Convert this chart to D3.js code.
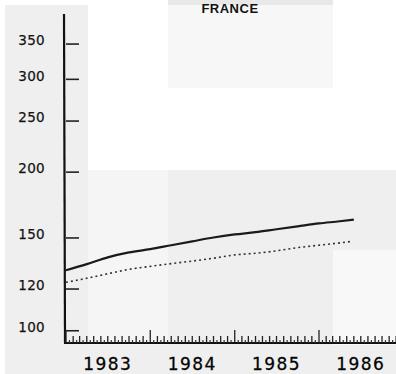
<!DOCTYPE html>
<html><head><meta charset="utf-8">
<script src="https://cdn.jsdelivr.net/npm/d3@7"></script>
<style>html,body{margin:0;padding:0;background:#fff;}svg{display:block;}</style>
</head><body>
<script>
const title = "FRANCE";
const yTicks = [100, 120, 150, 200, 250, 300, 350];
const xYears = ["1983", "1984", "1985", "1986"];
const solidDates = ["1983-01-01","1983-04-01","1983-07-01","1983-10-01","1984-01-01","1984-04-01","1984-07-01","1984-10-01","1985-01-01","1985-04-01","1985-07-01","1985-10-01","1986-01-01","1986-04-01","1986-06-01"];
const solidValues = [130, 133.5, 137.5, 140.5, 142.5, 145, 147.5, 150, 152, 153.5, 155.5, 157.5, 159.5, 161, 162.2];
const dottedDates = ["1983-01-01","1983-04-01","1983-07-01","1983-10-01","1984-01-01","1984-04-01","1984-07-01","1984-10-01","1985-01-01","1985-04-01","1985-07-01","1985-10-01","1986-01-01","1986-04-01","1986-05-20"];
const dottedValues = [123.3, 125.5, 128, 130.5, 132.2, 133.8, 135.3, 137, 139, 140, 141.5, 143.5, 145, 146.5, 147.4];

const W = 396, H = 374;
const svg = d3.select("body").append("svg").attr("width", W).attr("height", H);
const parse = d3.timeParse("%Y-%m-%d");

// scan background patches
const bg = svg.append("g");
[[5,5,83,369,"#efefef"],[168,0,165,88,"#f7f7f7"],[168,0,165,5,"#e8e8e8"],[88,170,80,175,"#f5f5f5"],
 [168,170,228,175,"#efefef"],[333,250,63,95,"#f8f8f8"],[88,345,308,29,"#efefef"]]
 .forEach(r => bg.append("rect").attr("x", r[0]).attr("y", r[1]).attr("width", r[2]).attr("height", r[3]).attr("fill", r[4]));

const x = d3.scaleTime().domain([parse("1983-01-01"), parse("1986-01-01")]).range([66, 319]);
const y = d3.scaleLog().domain([95, 400]).range([342, 13]);

// title
svg.append("text").attr("x", 230).attr("y", 13).attr("text-anchor", "middle")
  .attr("font-family", "Liberation Sans, Arial, sans-serif").attr("font-weight", "bold")
  .attr("font-size", 13).attr("letter-spacing", 0.5).attr("fill", "#111").text(title);

// y axis
const yAxis = d3.axisRight(y).tickValues(yTicks).tickSize(13).tickFormat("");
const gy = svg.append("g").attr("transform", "translate(66,0)").call(yAxis);
gy.select(".domain").remove();
gy.selectAll(".tick line").attr("stroke", "#222").attr("stroke-width", 1.6);
svg.append("line").attr("x1", 64).attr("x2", 65).attr("y1", 14).attr("y2", 343)
  .attr("stroke", "#111").attr("stroke-width", 2.2);
svg.append("g").selectAll("text").data(yTicks).join("text")
  .attr("x", 45).attr("y", d => y(d) - 3).attr("dy", "0.35em").attr("text-anchor", "end")
  .attr("font-family", "DejaVu Sans, sans-serif").attr("font-size", 13.5).attr("letter-spacing", 0.3)
  .attr("stroke", "#222").attr("stroke-width", 0.25)
  .attr("fill", "#111").text(d => d);

// x axis
const xEnd = parse("1987-01-01");
const gx = svg.append("g").attr("transform", "translate(0,343)");
gx.append("line").attr("x1", 64).attr("x2", W).attr("stroke", "#111").attr("stroke-width", 2.2);
const months = d3.timeMonth.range(parse("1983-01-01"), xEnd);
gx.selectAll("line.m").data(months).join("line").attr("class", "m")
  .attr("x1", d => x(d)).attr("x2", d => x(d)).attr("y1", 0)
  .attr("y2", d => d.getMonth() === 0 ? -13 : -7)
  .attr("stroke", "#222").attr("stroke-width", 1.3);
const mids = months.map(d => d3.timeDay.offset(d, 15));
gx.selectAll("line.h").data(mids).join("line").attr("class", "h")
  .attr("x1", d => x(d)).attr("x2", d => x(d)).attr("y1", 0).attr("y2", -3)
  .attr("stroke", "#333").attr("stroke-width", 1.2);
gx.selectAll("text").data(xYears).join("text")
  .attr("x", d => x(parse(d + "-07-01"))).attr("y", 27).attr("text-anchor", "middle")
  .attr("font-family", "DejaVu Sans, sans-serif").attr("font-size", 17).attr("letter-spacing", 1.5)
  .attr("stroke", "#111").attr("stroke-width", 0.3)
  .attr("fill", "#000").text(d => d);

// lines
const solid = solidDates.map((d, i) => ({ d: parse(d), v: solidValues[i] }));
const dotted = dottedDates.map((d, i) => ({ d: parse(d), v: dottedValues[i] }));
const line = d3.line().x(p => x(p.d)).y(p => y(p.v)).curve(d3.curveMonotoneX);
svg.append("path").datum(solid).attr("d", line).attr("fill", "none")
  .attr("stroke", "#1a1a1a").attr("stroke-width", 2.2);
svg.append("path").datum(dotted).attr("d", line).attr("fill", "none")
  .attr("stroke", "#333").attr("stroke-width", 1.6).attr("stroke-dasharray", "2,3");
</script>
</body></html>
